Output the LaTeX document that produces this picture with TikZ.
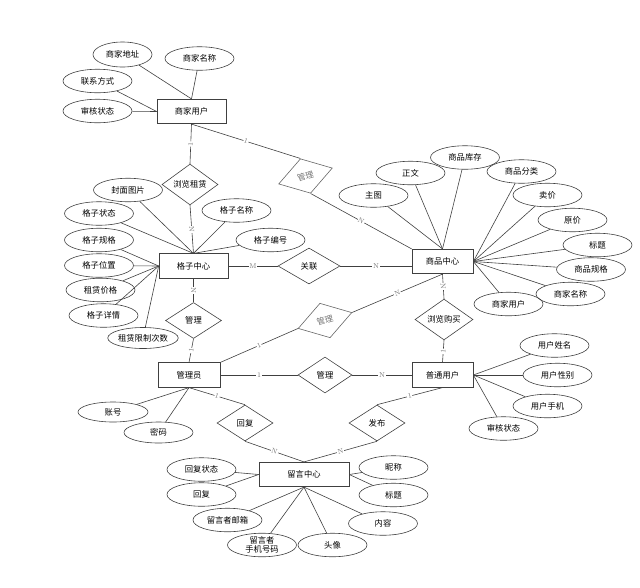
\documentclass[tikz,border=0pt]{standalone}
\usepackage{fontspec}
\newfontfamily\cjk{Noto Sans CJK SC}
\usetikzlibrary{shapes.geometric}

\begin{document}
\begin{tikzpicture}[x=1pt, y=-1pt,
    every node/.style={font=\cjk\fontsize{8.3}{9.5}\selectfont},
    entity/.style={draw=black!75, line width=0.7pt, rectangle, minimum width=#1, minimum height=24.5pt, inner sep=0pt},
    entity/.default=69pt,
    attr/.style={draw=black!75, line width=0.6pt, ellipse, minimum width=69pt, minimum height=23.5pt, inner sep=0pt},
    rel/.style={draw=black!75, line width=0.6pt, diamond, minimum width=56pt, minimum height=36pt, inner sep=0pt},
    relgray/.style={rel, draw=black!60, text=black!55, rotate=16.5},
    link/.style={draw=black!75, line width=0.6pt},
    card/.style={midway, sloped, fill=white, inner sep=0.6pt, text=black!55, font=\fontsize{7}{8}\selectfont}
]

% Fix the page size to the reference
\useasboundingbox (0,0) rectangle (640,587);

% Entities
\node[entity] (merchant) at (191.5,111.5) {商家用户};
\node[entity] (grid) at (193.5,266) {格子中心};
\node[entity=61pt] (goods) at (442.5,261.5) {商品中心};
\node[entity=62pt] (admin) at (189,375) {管理员};
\node[entity=61pt] (user) at (442.5,375) {普通用户};
\node[entity=90pt] (message) at (304,474.5) {留言中心};

% Relationships
\node[rel] (rentBrowse) at (190,184.5) {浏览租赁};
\node[relgray] (merchantManage) at (305.5,176) {管理};
\node[rel, minimum width=62pt] (associate) at (309,266) {关联};
\node[rel] (gridManage) at (193.5,320.5) {管理};
\node[relgray] (goodsManage) at (325,320.5) {管理};
\node[rel, minimum width=58pt, minimum height=35pt] (buyBrowse) at (444,319.5) {浏览购买};
\node[rel, minimum width=54pt] (userManage) at (325,375) {管理};
\node[rel] (reply) at (245,423) {回复};
\node[rel] (publish) at (377,423) {发布};

% Attributes of the merchant
\node[attr, minimum width=59pt, minimum height=25pt] (mAddr) at (122.5,54.5) {商家地址};
\node[attr] (mName) at (199.5,58.5) {商家名称};
\node[attr] (mContact) at (97.5,81) {联系方式};
\node[attr] (mAudit) at (97.5,111) {审核状态};

% Attributes of the grid
\node[attr] (gCover) at (128,190) {封面图片};
\node[attr] (gStatus) at (99,213.5) {格子状态};
\node[attr] (gName) at (236.5,210.5) {格子名称};
\node[attr] (gNo) at (270.5,240) {格子编号};
\node[attr] (gSpec) at (99,240) {格子规格};
\node[attr] (gPos) at (99,265.5) {格子位置};
\node[attr] (gPrice) at (100.5,290) {租赁价格};
\node[attr] (gDetail) at (103.5,315.5) {格子详情};
\node[attr, minimum width=70pt, minimum height=21pt] (gLimit) at (143,338) {租赁限制次数};

% Attributes of the goods
\node[attr] (pMain) at (373.5,195.5) {主图};
\node[attr] (pText) at (410.5,173) {正文};
\node[attr] (pStock) at (465,157.5) {商品库存};
\node[attr] (pCat) at (521.5,171.5) {商品分类};
\node[attr] (pSell) at (547.5,195) {卖价};
\node[attr] (pOrig) at (572.5,220) {原价};
\node[attr] (pTitle) at (597.5,245) {标题};
\node[attr] (pSpec) at (591,269.5) {商品规格};
\node[attr] (pShop) at (570.5,294) {商家名称};
\node[attr] (pMerchant) at (508.5,304) {商家用户};

% Attributes of the user
\node[attr] (uName) at (554.5,345.5) {用户姓名};
\node[attr] (uSex) at (557.5,375) {用户性别};
\node[attr] (uPhone) at (547.5,406) {用户手机};
\node[attr] (uAudit) at (503.5,428.5) {审核状态};

% Attributes of the admin
\node[attr, minimum width=70pt, minimum height=20pt] (aAccount) at (113,412) {账号};
\node[attr, minimum width=69pt, minimum height=21pt] (aPwd) at (158.5,432.5) {密码};

% Attributes of the message centre
\node[attr] (lReplyState) at (201.5,469.5) {回复状态};
\node[attr] (lReply) at (201.5,494.5) {回复};
\node[attr] (lEmail) at (227.5,520) {留言者邮箱};
\node[attr, align=center, font=\cjk\fontsize{8.3}{9}\selectfont] (lPhone) at (262,545) {留言者\\手机号码};
\node[attr] (lAvatar) at (332.5,545) {头像};
\node[attr] (lContent) at (383,523.5) {内容};
\node[attr] (lTitle) at (393.5,495) {标题};
\node[attr] (lNick) at (393.5,467.5) {昵称};

% Attribute lines
\draw[link] (mAddr) -- (merchant.north);
\draw[link] (mName) -- (merchant.north);
\draw[link] (mContact) -- (merchant.west);
\draw[link] (mAudit) -- (merchant.west);

\draw[link] (gCover) -- (grid.north);
\draw[link] (gStatus) -- (grid.north);
\draw[link] (gName) -- (grid.north);
\draw[link] (gNo) -- (grid.north);
\draw[link] (gSpec) -- (grid.west);
\draw[link] (gPos) -- (grid.west);
\draw[link] (gPrice) -- (grid.west);
\draw[link] (gDetail) -- (grid.west);
\draw[link] (gLimit) -- (grid.west);

\draw[link] (pMain) -- (goods.north);
\draw[link] (pText) -- (goods.north);
\draw[link] (pStock) -- (goods.north);
\draw[link] (pCat) -- (goods.east);
\draw[link] (pSell) -- (goods.east);
\draw[link] (pOrig) -- (goods.east);
\draw[link] (pTitle) -- (goods.east);
\draw[link] (pSpec) -- (goods.east);
\draw[link] (pShop) -- (goods.east);
\draw[link] (pMerchant) -- (goods.east);

\draw[link] (uName) -- (user.east);
\draw[link] (uSex) -- (user.east);
\draw[link] (uPhone) -- (user.east);
\draw[link] (uAudit) -- (user.east);

\draw[link] (aAccount) -- (admin.south);
\draw[link] (aPwd) -- (admin.south);

\draw[link] (lReplyState) -- (message.west);
\draw[link] (lReply) -- (message.west);
\draw[link] (lNick) -- (message.east);
\draw[link] (lTitle) -- (message.east);
\draw[link] (lEmail) -- (message.south);
\draw[link] (lPhone) -- (message.south);
\draw[link] (lAvatar) -- (message.south);
\draw[link] (lContent) -- (message.south);

% Relationship lines with cardinalities
\draw[link] (merchant.south) -- node[card] {1} (rentBrowse.north);
\draw[link] (rentBrowse.south) -- node[card] {N} (grid.north);
\draw[link] (merchant.south) -- node[card] {1} (merchantManage.north);
\draw[link] (merchantManage.south) -- node[card] {N} (goods.north west);
\draw[link] (grid.east) -- node[card] {M} (associate.west);
\draw[link] (associate.east) -- node[card] {N} (associate.east -| goods.west);
\draw[link] (grid.south) -- node[card] {N} (gridManage.north);
\draw[link] (gridManage.south) -- node[card] {1} (admin.north);
\draw[link] (admin.north east) -- node[card] {1} (goodsManage.west);
\draw[link] (goodsManage.east) -- node[card] {N} (goods.south);
\draw[link] (goods.south) -- node[card] {N} (buyBrowse.north);
\draw[link] (buyBrowse.south) -- node[card] {1} (user.north);
\draw[link] (admin.east) -- node[card] {1} (userManage.west);
\draw[link] (userManage.east) -- node[card] {N} (user.west);
\draw[link] (admin.south) -- node[card] {1} (reply.north);
\draw[link] (reply.south) -- node[card] {N} (message.north);
\draw[link] (user.south) -- node[card] {1} (publish.north);
\draw[link] (publish.south) -- node[card] {N} (message.north);

\end{tikzpicture}
\end{document}
